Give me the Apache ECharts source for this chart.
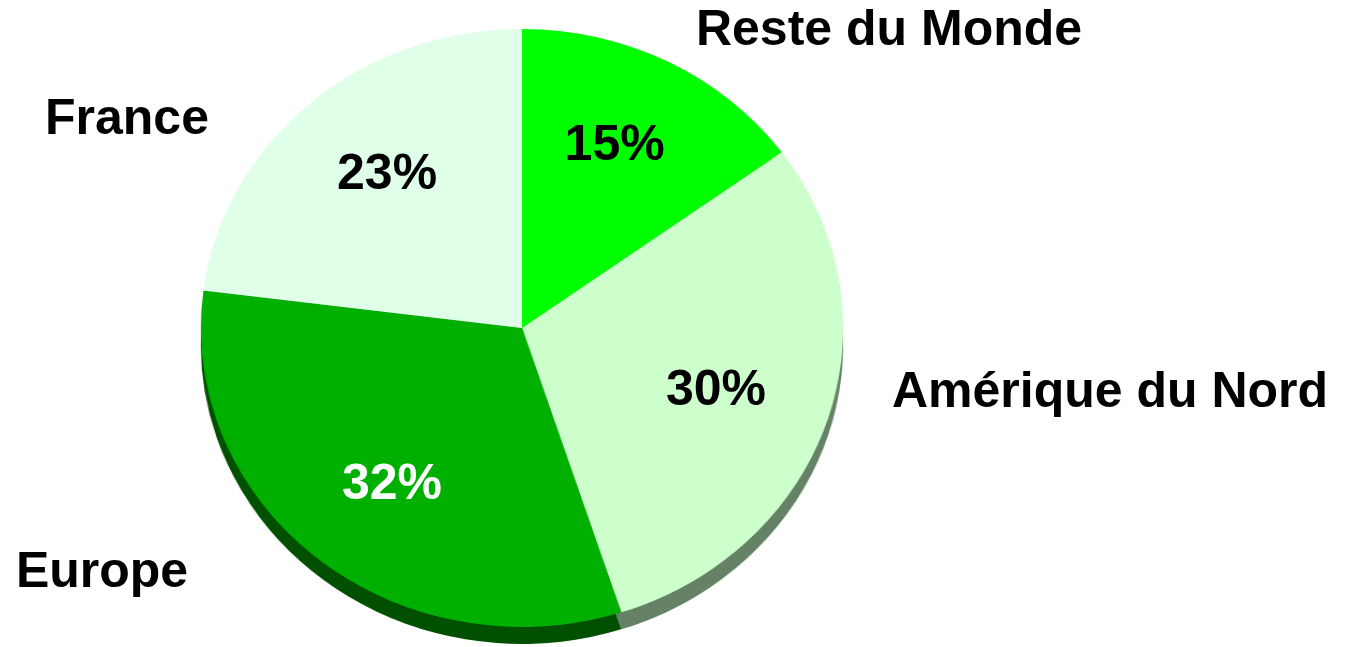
<!DOCTYPE html>
<html>
<head>
<meta charset="utf-8">
<script src="https://cdn.jsdelivr.net/npm/echarts@6/dist/echarts.min.js"></script>
<style>
html,body{margin:0;padding:0;background:#fff;width:1347px;height:647px;overflow:hidden;}
#shape,#labels{position:absolute;left:0;top:0;width:1347px;height:647px;}
#shape{transform:scaleX(1.074);transform-origin:522px 0;}
#labels{pointer-events:none;}
</style>
</head>
<body>
<div id="shape"></div>
<div id="labels"></div>
<script>
// ---- data ----
const categories = ['Reste du Monde', 'Amérique du Nord', 'Europe', 'France'];
const values = [15, 30, 32, 23];
// ---- styles ----
const sliceColors = ['#00FF00', '#CCFFCC', '#00B000', '#E0FFE8'];
const sideColors = ['#00A000', '#668266', '#005000', '#8FA08F'];
const percentColors = ['#000000', '#000000', '#FFFFFF', '#000000'];
const namePositions = [[889, 31], [1110, 393], [102, 573], [127, 120]];

const FONT = '"Liberation Sans", Arial, Helvetica, sans-serif';
const CX = 522, CY = 328, R = 299, DEPTH = 17;

function items(colors) {
  return categories.map((c, i) => ({ name: c, value: values[i], itemStyle: { color: colors[i] } }));
}

const shape = echarts.init(document.getElementById('shape'), null, { renderer: 'canvas' });
shape.setOption({
  animation: false,
  backgroundColor: 'transparent',
  series: [
    {
      type: 'pie', silent: true, startAngle: 90, clockwise: true,
      center: [CX, CY + DEPTH], radius: R,
      label: { show: false }, labelLine: { show: false },
      itemStyle: { borderWidth: 0 }, emphasis: { disabled: true },
      data: items(sideColors)
    },
    {
      type: 'pie', silent: true, startAngle: 90, clockwise: true,
      center: [CX, CY], radius: R,
      label: { show: false }, labelLine: { show: false },
      itemStyle: { borderWidth: 0 }, emphasis: { disabled: true },
      data: items(sliceColors)
    }
  ]
});

const labels = echarts.init(document.getElementById('labels'), null, { renderer: 'canvas' });
const clear = categories.map(() => 'rgba(0,0,0,0)');
labels.setOption({
  animation: false,
  backgroundColor: 'transparent',
  series: [
    {
      type: 'pie', silent: true, startAngle: 90, clockwise: true,
      center: [CX, CY], radius: 402, avoidLabelOverlap: false,
      percentPrecision: 0,
      itemStyle: { borderWidth: 0 }, emphasis: { disabled: true },
      labelLine: { show: false },
      data: categories.map((c, i) => ({
        name: c, value: values[i], itemStyle: { color: clear[i] },
        label: { color: percentColors[i] }
      })),
      label: {
        show: true, position: 'inside', formatter: '{d}%',
        fontFamily: FONT, fontWeight: 'bold', fontSize: 50
      }
    },
    {
      type: 'pie', silent: true, startAngle: 90, clockwise: true,
      center: [CX, CY], radius: R, avoidLabelOverlap: false,
      itemStyle: { borderWidth: 0 }, emphasis: { disabled: true },
      labelLine: { show: false },
      data: items(clear),
      label: {
        show: true, position: 'outside', formatter: '{b}', color: '#000',
        fontFamily: FONT, fontWeight: 'bold', fontSize: 50
      },
      labelLayout: function (p) {
        const pos = namePositions[p.dataIndex];
        return { x: pos[0], y: pos[1], align: 'center', verticalAlign: 'middle' };
      }
    }
  ]
});
</script>
</body>
</html>
